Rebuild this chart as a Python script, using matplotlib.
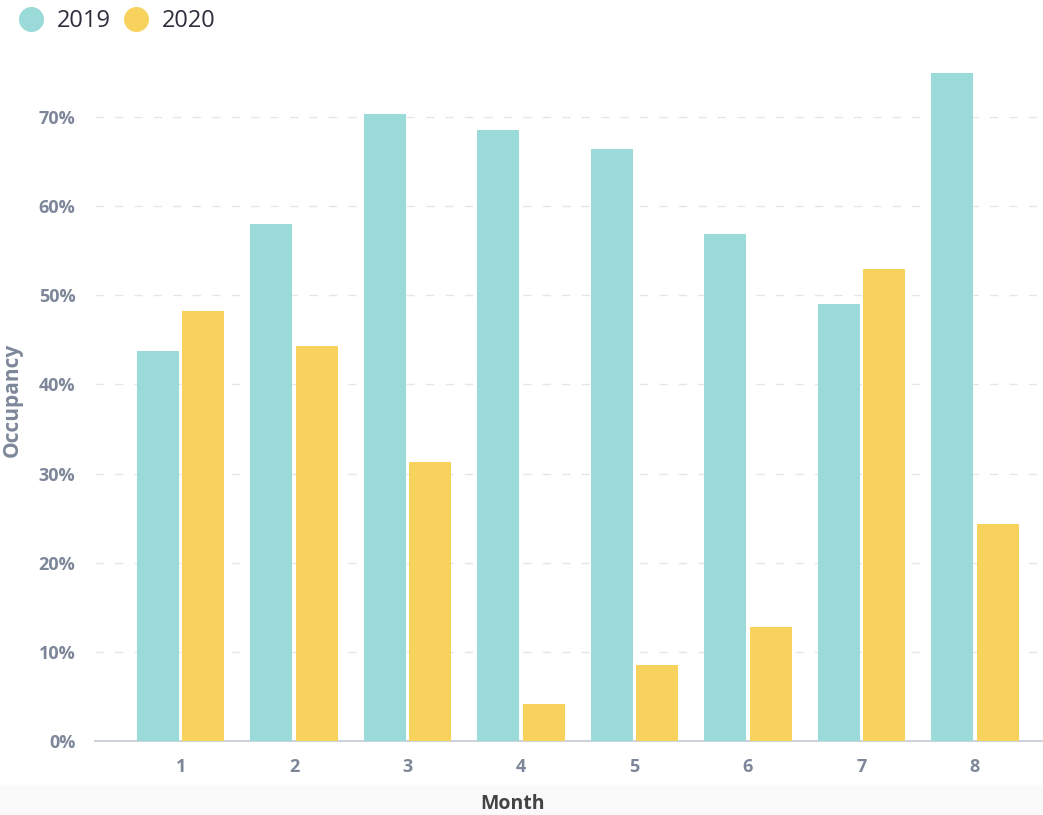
import numpy as np
import matplotlib.pyplot as plt
from matplotlib.patches import Rectangle
from matplotlib.lines import Line2D

months = [1, 2, 3, 4, 5, 6, 7, 8]
occ_2019 = [43.8, 58.0, 70.3, 68.6, 66.4, 56.9, 49.0, 75.0]
occ_2020 = [48.3, 44.3, 31.3, 4.2, 8.5, 12.8, 53.0, 24.4]
yticks = [0, 10, 20, 30, 40, 50, 60, 70]

teal = '#9adad8'
yellow = '#f7d35e'
tick_col = '#7d8799'

plt.rcParams['font.family'] = ['Open Sans', 'DejaVu Sans']

fig = plt.figure(figsize=(10.43, 8.15), dpi=100)
# light strip behind the x label
fig.patches.append(Rectangle((0, 0), 1, 0.035, transform=fig.transFigure,
                             color='#fafafa', zorder=0))
ax = fig.add_axes([0.091, 0.0908, 0.909, 0.853])

x = np.array(months)
w = 0.37
ax.bar(x - 0.2, occ_2019, width=w, color=teal, zorder=3)
ax.bar(x + 0.2, occ_2020, width=w, color=yellow, zorder=3)

ax.set_xlim(0.244, 8.6)
ax.set_ylim(0, 78)
ax.set_yticks(yticks)
ax.set_yticklabels([f'{t}%' for t in yticks])
ax.set_xticks(months)
ax.set_xticklabels([str(m) for m in months])
ax.tick_params(axis='both', length=0, labelsize=13, labelcolor=tick_col)
ax.tick_params(axis='y', pad=14)
ax.tick_params(axis='x', pad=12)
for lab in ax.get_xticklabels() + ax.get_yticklabels():
    lab.set_fontweight('bold')

ax.grid(axis='y', color='#e6e6e6', linestyle=(0, (6, 8)), linewidth=1, zorder=0)
for s in ['top', 'right', 'left']:
    ax.spines[s].set_visible(False)
ax.spines['bottom'].set_color('#ccd3dc')
ax.spines['bottom'].set_linewidth(1.5)

fig.text(12 / 1043, 1 - 400 / 815, 'Occupancy', rotation=90, ha='center', va='center',
         fontsize=15, fontweight='bold', color=tick_col)
fig.text(512 / 1043, 1 - 804 / 815, 'Month', ha='center', va='center',
         fontsize=14, fontweight='bold', color='#444444')

handles = [Line2D([], [], marker='o', linestyle='', markersize=17, color=teal),
           Line2D([], [], marker='o', linestyle='', markersize=17, color=yellow)]
fig.legend(handles, ['2019', '2020'], loc='upper left', bbox_to_anchor=(-0.013, 1.015),
           ncol=2, frameon=False, fontsize=17, handletextpad=0.1, columnspacing=0.05,
           labelcolor='#2e2e3e')

fig.savefig('out.png', dpi=100)
